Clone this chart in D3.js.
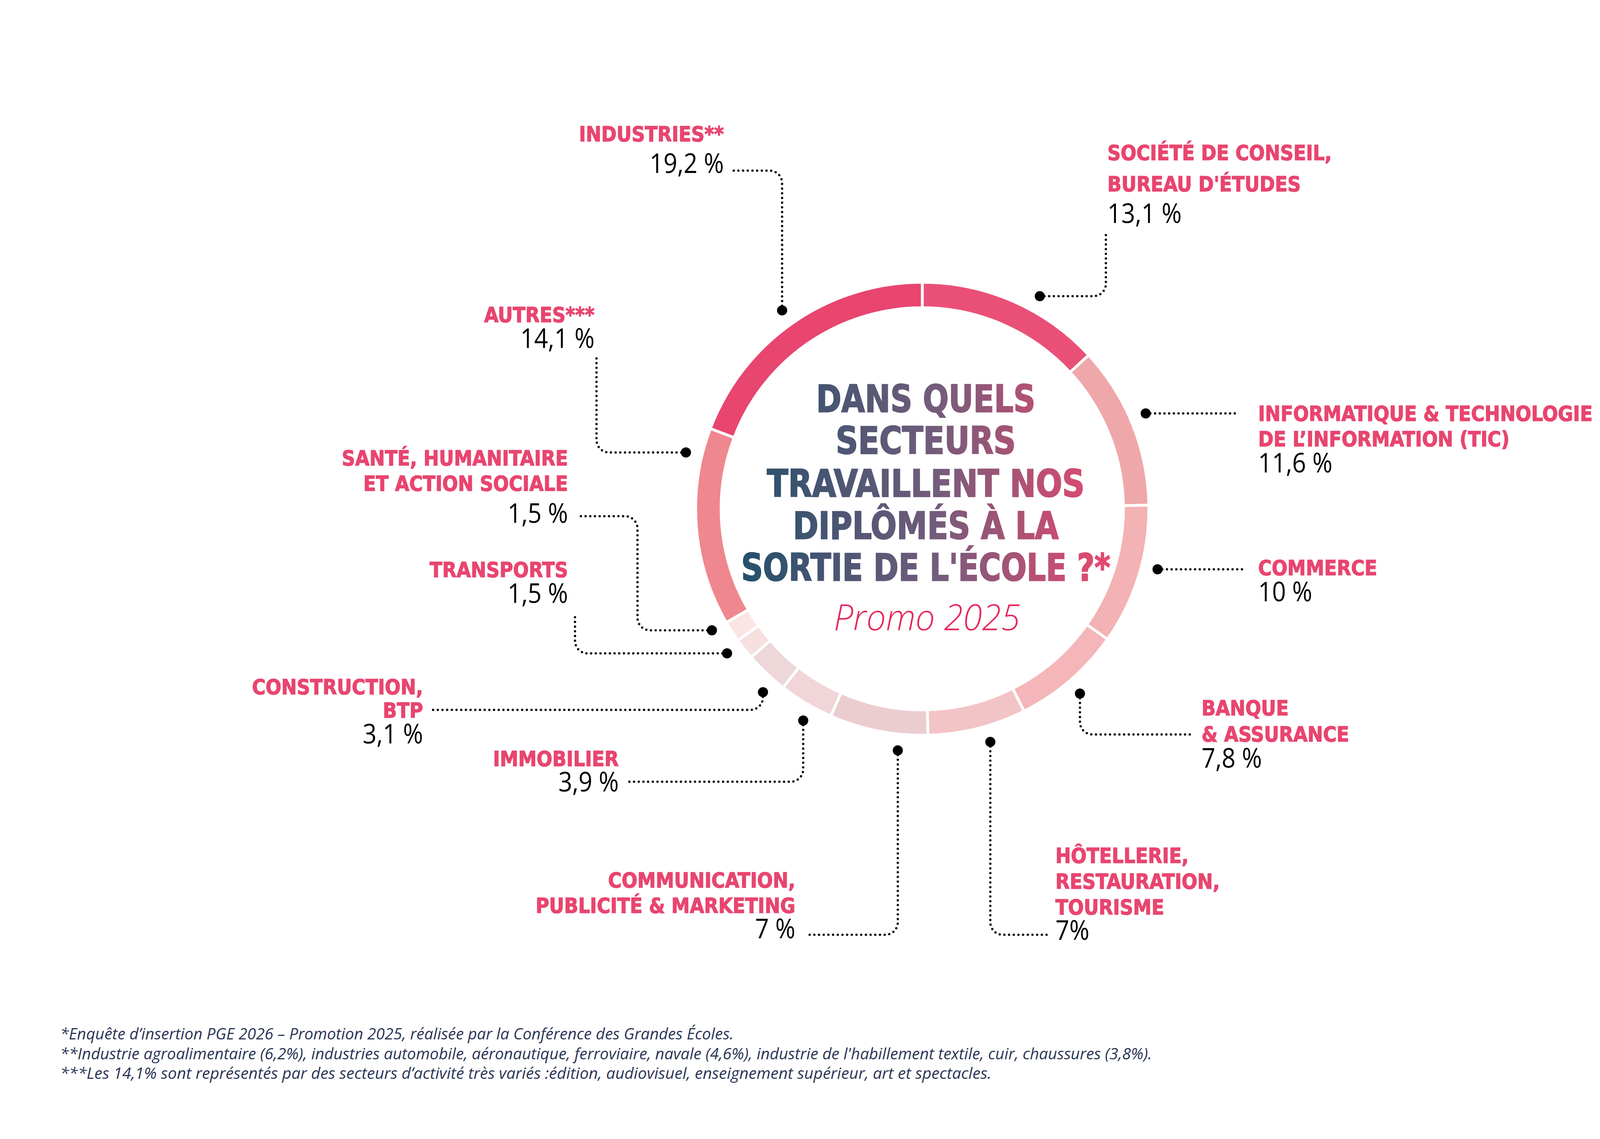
<!DOCTYPE html>
<html>
<head>
<meta charset="utf-8">
<script src="https://cdn.jsdelivr.net/npm/d3@7"></script>
<style>
  html, body { margin: 0; padding: 0; background: #fff; }
  .lbl { font-family: "DejaVu Sans Condensed", "DejaVu Sans", sans-serif; font-stretch: condensed; font-weight: bold; fill: #e8456f; stroke: #e8456f; stroke-width: 1.6; }
  .val { font-family: "Open Sans", sans-serif; font-weight: 400; fill: #000; }
  .title { font-family: "DejaVu Sans Condensed", "DejaVu Sans", sans-serif; font-stretch: condensed; font-weight: bold; stroke-width: 2.5; }
  .promo { font-family: "Open Sans", sans-serif; font-weight: 300; font-style: italic; fill: #e6295c; }
  .note { font-family: "Open Sans", sans-serif; font-style: italic; fill: #2b3556; }
</style>
</head>
<body>
<div id="chart"></div>
<script>
// data, clockwise from 12 o'clock
const sectors = [
  "Société de conseil, bureau d'études",
  "Informatique & technologie de l'information (TIC)",
  "Commerce",
  "Banque & assurance",
  "Hôtellerie, restauration, tourisme",
  "Communication, publicité & marketing",
  "Immobilier",
  "Construction, BTP",
  "Transports",
  "Santé, humanitaire et action sociale",
  "Autres",
  "Industries"
];
const shares = [13.1, 11.6, 10, 7.8, 7, 7, 3.9, 3.1, 1.5, 1.5, 14.1, 19.2];
const labelLines = [
  ["SOCIÉTÉ DE CONSEIL,", "BUREAU D'ÉTUDES"],
  ["INFORMATIQUE & TECHNOLOGIE", "DE L’INFORMATION (TIC)"],
  ["COMMERCE"],
  ["BANQUE", "& ASSURANCE"],
  ["HÔTELLERIE,", "RESTAURATION,", "TOURISME"],
  ["COMMUNICATION,", "PUBLICITÉ & MARKETING"],
  ["IMMOBILIER"],
  ["CONSTRUCTION,", "BTP"],
  ["TRANSPORTS"],
  ["SANTÉ, HUMANITAIRE", "ET ACTION SOCIALE"],
  ["AUTRES***"],
  ["INDUSTRIES**"]
];
const valueLabels = ["13,1 %", "11,6 %", "10 %", "7,8 %", "7%", "7 %", "3,9 %", "3,1 %", "1,5 %", "1,5 %", "14,1 %", "19,2 %"];
const colors = ["#ea5077", "#efa8aa", "#f3b2b4", "#f4b6b8", "#f3c4c6", "#ebcdd0", "#f1d5d8", "#edd7d8", "#f5dfdf", "#fbe5e4", "#ef878e", "#e8456f"];

const titleLines = ["DANS QUELS", "SECTEURS", "TRAVAILLENT NOS", "DIPLÔMÉS À LA", "SORTIE DE L'ÉCOLE ?*"];
const subtitle = "Promo 2025";
const notes = [
  "*Enquête d’insertion PGE 2026 – Promotion 2025, réalisée par la Conférence des Grandes Écoles.",
  "**Industrie agroalimentaire (6,2%), industries automobile, aéronautique, ferroviaire, navale (4,6%), industrie de l'habillement textile, cuir, chaussures (3,8%).",
  "***Les 14,1% sont représentés par des secteurs d’activité très variés :édition, audiovisuel, enseignement supérieur, art et spectacles."
];

// layout
const W = 4792, H = 2917;
const cx = 2361, cy = 1303;
const rOuter = 580, rInner = 515, rDot = 622;

const labelLayout = [
  { anchor: "start", x: 2835, y: 410, lh: 80, vy: 571, leader: "hv", to: [2831, 590], nudge: 5.3 },
  { anchor: "start", x: 3221, y: 1078, lh: 65, vy: 1210, leader: "h", to: [3171], nudge: -1.3 },
  { anchor: "start", x: 3221, y: 1473, lh: 65, vy: 1540, leader: "h", to: [3190], nudge: -2.7 },
  { anchor: "start", x: 3076, y: 1832, lh: 67, vy: 1966, leader: "vh", to: [3053, 1881], nudge: 0.3 },
  { anchor: "start", x: 2702, y: 2210, lh: 66, vy: 2407, leader: "vh", to: [2682, 2394], nudge: -2.2 },
  { anchor: "end", x: 2036, y: 2273, lh: 65, vy: 2403, leader: "vh", to: [2061, 2394], nudge: -5.4 },
  { anchor: "end", x: 1584, y: 1962, lh: 65, vy: 2027, leader: "vh", to: [1609, 2002], nudge: -1.5 },
  { anchor: "end", x: 1083, y: 1778, lh: 60, vy: 1904, leader: "vh", to: [1106, 1818], nudge: -2.5 },
  { anchor: "end", x: 1454, y: 1478, lh: 65, vy: 1544, leader: "hv", to: [1472, 1578], nudge: 1.7 },
  { anchor: "end", x: 1454, y: 1192, lh: 65, vy: 1339, leader: "hvh", mid: 1632, to: [1486, 1322], nudge: 2.8 },
  { anchor: "end", x: 1522, y: 825, lh: 65, vy: 891, leader: "hv", to: [1527, 916], nudge: 18.1 },
  { anchor: "end", x: 1853, y: 362, lh: 65, vy: 443, leader: "vh", to: [1869, 437], nudge: -0.6 }
];

const svg = d3.select("#chart").append("svg")
  .attr("width", W)
  .attr("height", H)
  .attr("viewBox", `0 0 ${W} ${H}`);

svg.append("rect").attr("width", W).attr("height", H).attr("fill", "#fff");

const defs = svg.append("defs");
const grad = defs.append("linearGradient")
  .attr("id", "titleGrad")
  .attr("gradientUnits", "userSpaceOnUse")
  .attr("x1", 1898).attr("x2", 2843).attr("y1", 0).attr("y2", 0);
grad.append("stop").attr("offset", "0").attr("stop-color", "#24506b");
grad.append("stop").attr("offset", "0.53").attr("stop-color", "#745c7b");
grad.append("stop").attr("offset", "1").attr("stop-color", "#e8486f");

// ring
const pie = d3.pie().sort(null).value(d => d);
const arcs = pie(shares);
const arc = d3.arc().innerRadius(rInner).outerRadius(rOuter);

const ring = svg.append("g").attr("transform", `translate(${cx},${cy})`);
ring.selectAll("path")
  .data(arcs)
  .join("path")
  .attr("d", arc)
  .attr("fill", (d, i) => colors[i])
  .attr("stroke", "#fff")
  .attr("stroke-width", 7);

// leaders
const dotPos = (a, i) => {
  const t = (a.startAngle + a.endAngle) / 2 + labelLayout[i].nudge * Math.PI / 180;
  return [cx + rDot * Math.sin(t), cy - rDot * Math.cos(t)];
};

const leaderPath = (p, L) => {
  const r = 32;
  let pts;
  if (L.leader === "h") pts = [p, [L.to[0], p[1]]];
  else if (L.leader === "hv") pts = [p, [L.to[0], p[1]], L.to];
  else if (L.leader === "vh") pts = [p, [p[0], L.to[1]], L.to];
  else pts = [p, [L.mid, p[1]], [L.mid, L.to[1]], L.to];
  const path = d3.path();
  path.moveTo(pts[0][0], pts[0][1]);
  for (let k = 1; k < pts.length - 1; k++) {
    path.arcTo(pts[k][0], pts[k][1], pts[k + 1][0], pts[k + 1][1], r);
  }
  const last = pts[pts.length - 1];
  path.lineTo(last[0], last[1]);
  return path.toString();
};

const leaders = svg.append("g").attr("class", "leaders");
arcs.forEach((a, i) => {
  const p = dotPos(a, i);
  leaders.append("path")
    .attr("d", leaderPath(p, labelLayout[i]))
    .attr("fill", "none")
    .attr("stroke", "#000")
    .attr("stroke-width", 6)
    .attr("stroke-linecap", "round")
    .attr("stroke-dasharray", "0 12");
  leaders.append("circle")
    .attr("cx", p[0]).attr("cy", p[1])
    .attr("r", 13)
    .attr("fill", "#000");
});

// labels
const labels = svg.append("g").attr("class", "labels");
sectors.forEach((s, i) => {
  const L = labelLayout[i];
  labelLines[i].forEach((line, j) => {
    labels.append("text")
      .attr("class", "lbl")
      .attr("x", L.x)
      .attr("y", L.y + j * L.lh)
      .attr("text-anchor", L.anchor)
      .attr("font-size", 54)
      .text(line);
  });
  labels.append("text")
    .attr("class", "val")
    .attr("x", L.x)
    .attr("y", L.vy)
    .attr("text-anchor", L.anchor)
    .attr("font-size", 70)
    .text(valueLabels[i]);
});

// squeeze labels to the condensed look of the original
const squeeze = (sel, k) => sel.each(function() {
  const len = this.getComputedTextLength();
  d3.select(this).attr("textLength", len * k).attr("lengthAdjust", "spacingAndGlyphs");
});
const probe = labels.selectAll("text.lbl").filter(function() { return this.textContent === "TRANSPORTS"; }).node();
const kLbl = probe ? 354 / probe.getComputedTextLength() : 1;
squeeze(labels.selectAll("text.lbl"), kLbl);
const vprobe = labels.selectAll("text.val").filter(function() { return this.textContent === "14,1 %"; }).node();
const kVal = vprobe ? 190 / vprobe.getComputedTextLength() : 1;
squeeze(labels.selectAll("text.val"), kVal);

// title
const titleWidths = [561, 461, 813, 680, 945];
const titleBase = [1055, 1162, 1272, 1380, 1487];
const title = svg.append("g");
titleLines.forEach((t, i) => {
  title.append("text")
    .attr("class", "title")
    .attr("x", 2370)
    .attr("y", titleBase[i])
    .attr("text-anchor", "middle")
    .attr("font-size", 96)
    .attr("fill", "url(#titleGrad)")
    .attr("stroke", "url(#titleGrad)")
    .attr("textLength", titleWidths[i])
    .attr("lengthAdjust", "spacingAndGlyphs")
    .text(t);
});
title.append("text")
  .attr("class", "promo")
  .attr("x", 2373)
  .attr("y", 1614)
  .attr("text-anchor", "middle")
  .attr("font-size", 92)
  .attr("textLength", 477)
  .attr("lengthAdjust", "spacingAndGlyphs")
  .text(subtitle);

// footnotes
const noteWidths = [1724, 2795, 2384];
svg.append("g").selectAll("text")
  .data(notes)
  .join("text")
  .attr("class", "note")
  .attr("x", 154)
  .attr("y", (d, i) => 2662 + i * 50.5)
  .attr("font-size", 40)
  .attr("textLength", (d, i) => noteWidths[i])
  .attr("lengthAdjust", "spacingAndGlyphs")
  .text(d => d);
</script>
</body>
</html>
